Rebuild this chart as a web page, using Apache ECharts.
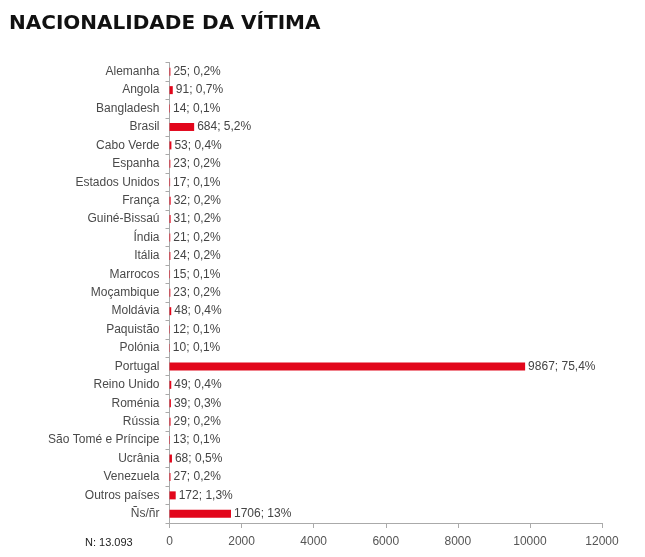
<!DOCTYPE html>
<html><head><meta charset="utf-8">
<script src="https://cdn.jsdelivr.net/npm/echarts@6/dist/echarts.min.js"></script>
<style>html,body{margin:0;padding:0;background:#fff}#c{width:645px;height:557px}</style>
</head><body><div id="c"></div>
<script>
const categories = ["Alemanha","Angola","Bangladesh","Brasil","Cabo Verde","Espanha","Estados Unidos","França","Guiné-Bissaú","Índia","Itália","Marrocos","Moçambique","Moldávia","Paquistão","Polónia","Portugal","Reino Unido","Roménia","Rússia","São Tomé e Príncipe","Ucrânia","Venezuela","Outros países","Ñs/ñr"];
const values = [25,91,14,684,53,23,17,32,31,21,24,15,23,48,12,10,9867,49,39,29,13,68,27,172,1706];
const percents = ["0,2%","0,7%","0,1%","5,2%","0,4%","0,2%","0,1%","0,2%","0,2%","0,2%","0,2%","0,1%","0,2%","0,4%","0,1%","0,1%","75,4%","0,4%","0,3%","0,2%","0,1%","0,5%","0,2%","1,3%","13%"];
const xTicks = [0,2000,4000,6000,8000,10000,12000];

const chart = echarts.init(document.getElementById('c'));
chart.setOption({
  animation:false,
  title:{text:"NACIONALIDADE DA VÍTIMA",left:4,top:9,textStyle:{fontFamily:"DejaVu Sans",fontWeight:"bold",fontSize:20,color:"#111"}},
  graphic:[{type:'text',left:85,top:537,style:{text:"N: 13.093",fontFamily:"Liberation Sans",fontSize:11,fill:"#222"}}],
  grid:{left:169.5,right:43,top:62.5,bottom:34,containLabel:false},
  xAxis:{type:'value',min:xTicks[0],max:xTicks[xTicks.length-1],interval:2000,
    axisLine:{show:true,lineStyle:{color:"#aaa"}},axisTick:{show:true,length:5,lineStyle:{color:"#aaa"}},
    splitLine:{show:false},axisLabel:{color:"#555",fontFamily:"Liberation Sans",fontSize:12,margin:13,formatter:v=>String(v)}},
  yAxis:{type:'category',inverse:true,data:categories,
    axisLine:{show:true,lineStyle:{color:"#aaa"}},axisTick:{show:true,length:4,lineStyle:{color:"#aaa"}},
    axisLabel:{color:"#4a4a4a",fontFamily:"Liberation Sans",fontSize:12,margin:10}},
  series:[{type:'bar',data:values,barWidth:8,itemStyle:{color:"#e2061b"},
    label:{show:true,position:'right',distance:3,color:"#444",fontFamily:"Liberation Sans",fontSize:12,
      formatter:p=>p.value+"; "+percents[p.dataIndex]}}]
});
</script></body></html>
